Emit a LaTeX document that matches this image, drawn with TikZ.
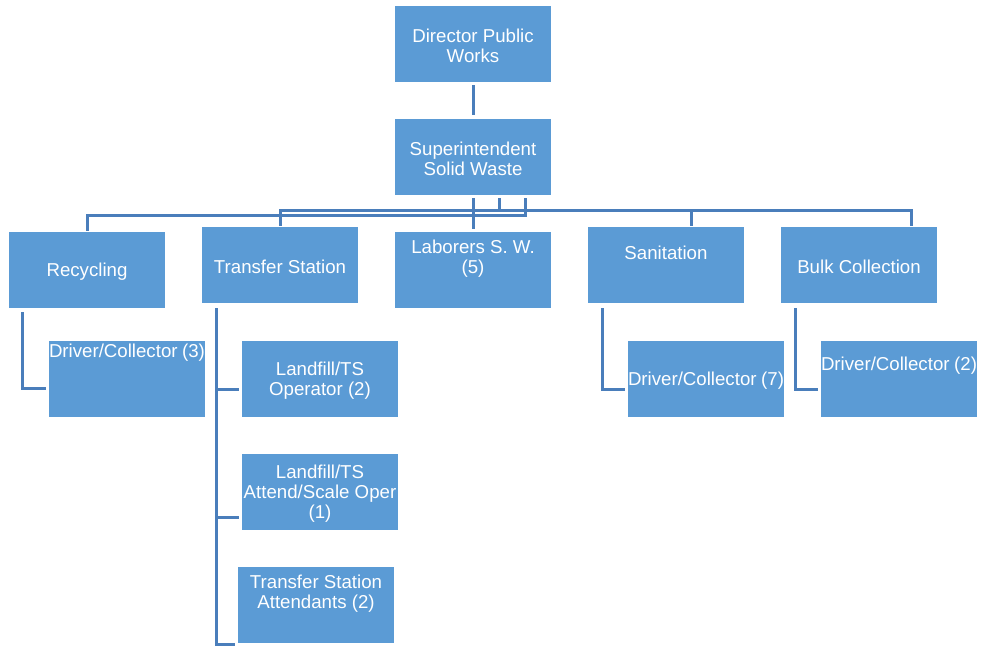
\documentclass[tikz,border=0pt]{standalone}
\usepackage{fontspec}
\setmainfont{Liberation Sans}
\usetikzlibrary{calc}
\definecolor{boxblue}{HTML}{5B9BD5}
\definecolor{linkblue}{HTML}{4A7EBB}
\newcommand{\bt}[2][0pt]{\parbox[c][57pt][c]{117pt}{\vspace*{2.5pt}\centering #2\par\vspace*{#1}}}
\tikzset{
  orgbox/.style={rectangle, fill=boxblue, draw=none, minimum width=117pt, minimum height=57pt,
    inner sep=0pt, text=white, font=\fontsize{14}{15}\selectfont},
  link/.style={draw=linkblue, line width=2.25pt}
}
\begin{document}
\begin{tikzpicture}[x=0.75pt, y=-0.75pt]
\useasboundingbox (0,0) rectangle (981,646);
\node[orgbox] (dir)  at (473,44)  {\bt{Director Public\\Works}};
\node[orgbox] (sup)  at (473,157) {\bt{Superintendent\\Solid Waste}};
\node[orgbox] (rec)  at (87,270)  {\bt{Recycling}};
\node[orgbox] (ts)   at (280,265) {\bt{Transfer Station}};
\node[orgbox] (lab)  at (473,270) {\bt[20pt]{Laborers S. W.\\(5)}};
\node[orgbox] (san)  at (666,265) {\bt[21pt]{Sanitation}};
\node[orgbox] (bulk) at (859,265) {\bt{Bulk Collection}};
\node[orgbox] (dc3)  at (127,379) {\bt[42pt]{Driver/Collector (3)}};
\node[orgbox] (lto)  at (320,379) {\bt{Landfill/TS\\Operator (2)}};
\node[orgbox] (las)  at (320,492) {\bt{Landfill/TS\\Attend/Scale Oper\\(1)}};
\node[orgbox] (tsa)  at (316,605) {\bt[20pt]{Transfer Station\\Attendants (2)}};
\node[orgbox] (dc7)  at (706,379) {\bt{Driver/Collector (7)}};
\node[orgbox] (dc2)  at (899,379) {\bt[22pt]{Driver/Collector (2)}};
% top
\draw[link] ($(dir.south)+(0,3)$) -- ($(sup.north)+(0,-4)$);
% laborers
\draw[link] ($(sup.south)+(0,3)$) -- ($(lab.north)+(0,-3)$);
% upper bus
\coordinate (bus1) at ($(sup.south)+(26,16)$);
\draw[link] ($(sup.south)+(26,3)$) -- (bus1);
\draw[link] ($(ts.north)+(0,-1)$) |- ($(bulk.north)+(52,-16)$) -- ($(bulk.north)+(52,-1)$);
\draw[link] ($(san.north)+(25,-16)$) -- ($(san.north)+(25,-1)$);
% lower bus
\draw[link] ($(rec.north)+(0,-1)$) |- ($(sup.south)+(52,20)$) -- ($(sup.south)+(52,3)$);
% children
\draw[link] ($(rec.south west)+(14,4)$) |- ($(dc3.west)+(-3,9)$);
\coordinate (tsv) at ($(ts.south west)+(15,5)$);
\draw[link] (tsv) |- ($(tsa.west)+(-3,39)$);
\draw[link] (tsv) |- ($(lto.west)+(-3,10)$);
\draw[link] (tsv) |- ($(las.west)+(-3,25)$);
\draw[link] ($(san.south west)+(15,5)$) |- ($(dc7.west)+(-3,10)$);
\draw[link] ($(bulk.south west)+(15,5)$) |- ($(dc2.west)+(-3,10)$);
\end{tikzpicture}
\end{document}
